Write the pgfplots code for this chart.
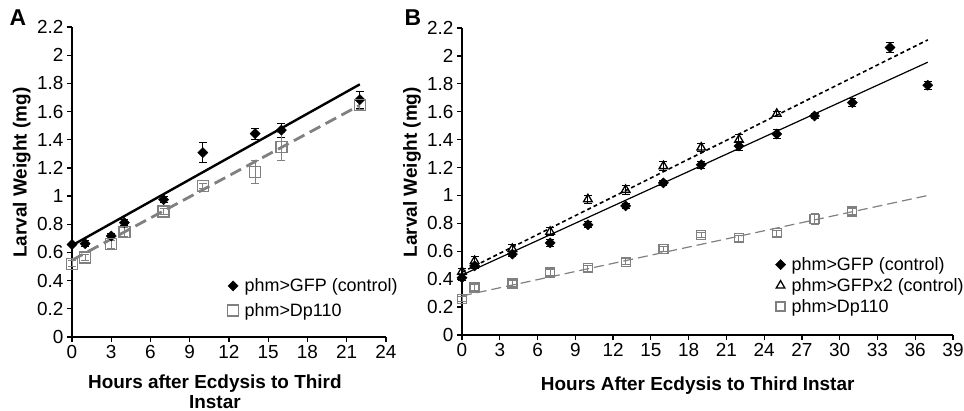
\documentclass[border=0pt]{standalone}
\usepackage{fontspec}
\setmainfont{Liberation Sans}
\usepackage{pgfplots}
\pgfplotsset{compat=1.18}
\definecolor{dpGray}{RGB}{128,128,128}

\pgfplotsset{
  panel/.style={
    scale only axis, enlargelimits=false, clip=false,
    axis x line=bottom, axis y line=left,
    axis line style={-, line width=1.3bp, black},
    ymin=0, ymax=2.2,
    ytick={0,0.2,0.4,0.6,0.8,1,1.2,1.4,1.6,1.8,2,2.2},
    tick align=outside, major tick length=5bp,
    tick style={black, line width=1.2bp},
    /pgf/number format/assume math mode=true,
    tick label style={font=\fontsize{19}{21}\selectfont},
    label style={font=\bfseries\fontsize{19}{20}\selectfont},
    legend cell align=left,
    legend image code/.code={\draw[##1] plot coordinates {(0bp,0bp)};},
    legend style={draw=none, fill=none, inner sep=0pt,
      font=\fontsize{18}{20}\selectfont,
      /tikz/every odd column/.append style={column sep=4bp}},
  },
  ebar/.style={error bars/.cd, y dir=both, y explicit,
    error bar style={line width=1bp, #1},
    error mark options={rotate=90, mark size=4bp, line width=1bp, #1}},
}

\begin{document}
\begin{tikzpicture}
\path[use as bounding box] (0,0) rectangle (964bp,411bp);

% ---- panel A ----
\begin{axis}[panel, at={(72bp,74bp)}, anchor=south west,
    width=314bp, height=310bp,
    xmin=0, xmax=24, xtick={0,3,...,24},
    xlabel={Hours after Ecdysis to Third\\Instar},
    xlabel style={align=center, at={(axis description cs:0.455,-0.11)}, anchor=north},
    ylabel={Larval Weight (mg)},
    ylabel style={at={(axis description cs:-0.16,0.53)}, anchor=center},
    legend style={at={(axis description cs:0.495,0.195)}, anchor=north west, row sep=6bp},
]
\addplot[black, line width=2.4bp, forget plot] coordinates {(0,0.65) (22,1.793)};
\addplot[dpGray, line width=2.8bp, dash pattern=on 12bp off 6bp, forget plot]
  coordinates {(0,0.545) (22,1.645)};
\addplot[only marks, mark=square*, mark size=3.6bp,
  mark options={rotate=45, fill=black, draw=black}, ebar=black]
  table[x=x, y=y, y error=e] {
x y e
0 0.656 0.01
1 0.663 0.02
3 0.717 0.02
4 0.812 0.02
7 0.975 0.02
10 1.309 0.07
14 1.443 0.04
16 1.468 0.05
22 1.685 0.06
};
\addlegendentry{phm>GFP (control)}
\addplot[only marks, mark=square, mark size=5.5bp,
  mark options={draw=dpGray, fill=white, line width=1.4bp}, ebar=dpGray]
  table[x=x, y=y, y error=e] {
x y e
0 0.52 0.02
1 0.565 0.02
3 0.658 0.03
4 0.745 0.03
7 0.89 0.02
10 1.072 0.02
14 1.171 0.085
16 1.35 0.1
22 1.645 0.03
};
\addlegendentry{phm>Dp110}
\end{axis}

% ---- panel B ----
\begin{axis}[panel, at={(462bp,76bp)}, anchor=south west,
    width=491bp, height=307bp,
    xmin=0, xmax=39, xtick={0,3,...,39},
    xlabel={Hours After Ecdysis to Third Instar},
    xlabel style={at={(axis description cs:0.48,-0.125)}, anchor=north},
    ylabel={Larval Weight (mg)},
    ylabel style={at={(axis description cs:-0.102,0.53)}, anchor=center},
    legend style={at={(axis description cs:0.638,0.26)}, anchor=north west, row sep=2.5bp},
]
\addplot[black, line width=1.2bp, forget plot] coordinates {(0,0.43) (37,1.955)};
\addplot[black, line width=1.6bp, dash pattern=on 4bp off 3bp, forget plot]
  coordinates {(0,0.45) (37,2.115)};
\addplot[dpGray, line width=1.2bp, dash pattern=on 10bp off 5bp, forget plot]
  coordinates {(0,0.28) (37,1.0)};
\addplot[only marks, mark=square*, mark size=3.6bp,
  mark options={rotate=45, fill=black, draw=black}, ebar=black]
  table[x=x, y=y, y error=e] {
x y e
0 0.41 0.02
1 0.495 0.02
4 0.58 0.02
7 0.66 0.025
10 0.79 0.02
13 0.925 0.02
16 1.09 0.02
19 1.22 0.025
22 1.355 0.03
25 1.44 0.03
28 1.57 0.02
31 1.665 0.03
34 2.06 0.035
37 1.79 0.03
};
\addlegendentry{phm>GFP (control)}
\addplot[only marks, mark=triangle, mark size=5bp,
  mark options={draw=black, fill=white, line width=1.3bp}, ebar=black]
  table[x=x, y=y, y error=e] {
x y e
0 0.454 0.02
1 0.53 0.03
4 0.617 0.03
7 0.74 0.03
10 0.973 0.03
13 1.04 0.03
16 1.21 0.03
19 1.343 0.03
22 1.40 0.04
25 1.585 0.02
};
\addlegendentry{phm>GFPx2 (control)}
\addplot[only marks, mark=square, mark size=4.5bp,
  mark options={draw=dpGray, fill=white, line width=1.3bp}, ebar=dpGray]
  table[x=x, y=y, y error=e] {
x y e
0 0.258 0.02
1 0.34 0.02
4 0.37 0.02
7 0.447 0.02
10 0.478 0.02
13 0.525 0.02
16 0.617 0.02
19 0.717 0.02
22 0.693 0.02
25 0.729 0.02
28 0.83 0.04
31 0.884 0.02
};
\addlegendentry{phm>Dp110}
\end{axis}

\node[font=\bfseries\fontsize{23}{25}\selectfont] at (18bp,393bp) {A};
\node[font=\bfseries\fontsize{23}{25}\selectfont] at (413bp,393bp) {B};
\end{tikzpicture}
\end{document}
